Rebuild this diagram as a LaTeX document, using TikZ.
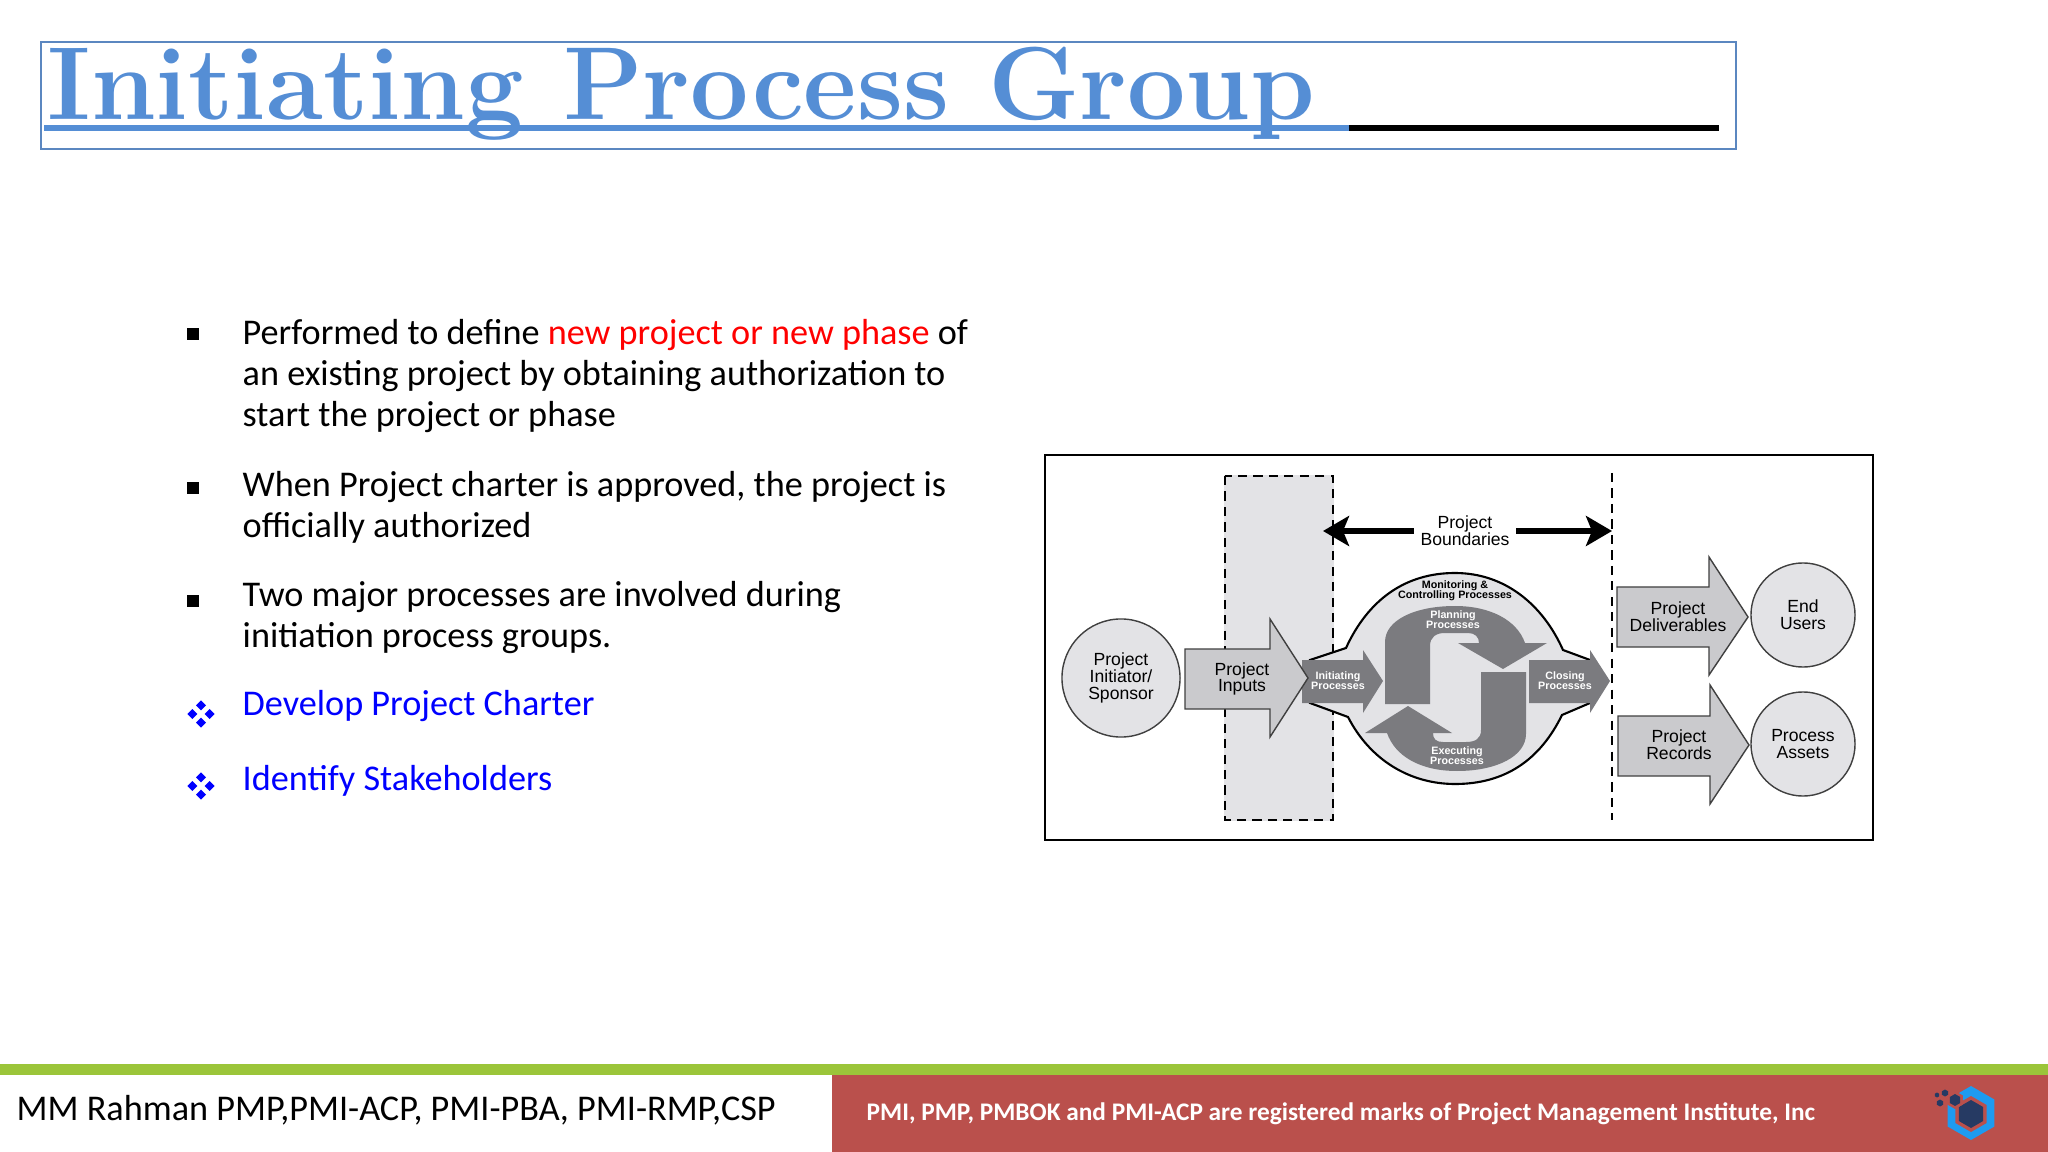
\documentclass[tikz,border=0pt]{standalone}
\usepackage{fontspec}
\usepackage{xcolor}
\usepackage{graphicx}
\usepackage{tikz}
\usetikzlibrary{calc}
\usetikzlibrary{arrows.meta}
\newfontfamily\bodyfont{Carlito}
\newfontfamily\figfont{Liberation Sans}
\definecolor{titleblue}{HTML}{558ED5}
\definecolor{boxblue}{HTML}{5B87C0}
\definecolor{barred}{HTML}{BA504C}
\definecolor{bargreen}{HTML}{9BC53A}
\definecolor{softgray}{HTML}{E3E3E6}
\definecolor{midgray}{HTML}{CACACD}
\definecolor{darkgray}{HTML}{7B7B7F}
\definecolor{logoblue}{HTML}{1E9BF0}
\definecolor{logonavy}{HTML}{263A63}
\def\fourdiamonds{\tikz[x=0.01cm,y=0.01cm,baseline=-0.5ex]{
	\foreach \dx/\dy in {8.7/0,-8.7/0,0/8.7,0/-8.7}
		\fill[blue] (\dx-5,\dy)--(\dx,\dy+5)--(\dx+5,\dy)--(\dx,\dy-5)--cycle;}
	}
\def\hexat#1#2#3{(#1,#2-#3)--(#1+.866*#3,#2-.5*#3)--(#1+.866*#3,#2+.5*#3)--(#1,#2+#3)--(#1-.866*#3,#2+.5*#3)--(#1-.866*#3,#2-.5*#3)--cycle}
\tikzset{
	bodytext/.style={anchor=west,inner sep=0pt,align=left,font=\bodyfont\fontsize{10.3pt}{11.65pt}\selectfont},
	squarebullet/.style={fill=black,inner sep=0pt,minimum size=0.11cm},
	softcircle/.style={circle,draw=black!75,line width=0.4pt,fill=softgray,minimum size=1.04cm,inner sep=0pt,align=center,font=\figfont\fontsize{5pt}{4.75pt}\selectfont},
	blockarrow/.style={draw=black!75,line width=0.4pt,fill=midgray},
	darkarrow/.style={fill=darkgray},
	figlabel/.style={inner sep=0pt,align=center,font=\figfont\fontsize{5pt}{4.75pt}\selectfont},
	whitelabel/.style={inner sep=0pt,align=center,text=white,font=\figfont\bfseries\fontsize{3.05pt}{2.9pt}\selectfont},
	boundary/.style={line width=1.6pt,-{Stealth[length=0.26cm,width=0.30cm,inset=0.06cm]}},
}
\begin{document}
\begin{tikzpicture}[x=0.01cm,y=-0.01cm]
	\useasboundingbox (0,0) rectangle (2048,1152);
	\fill[white] (0,0) rectangle (2048,1152);
	\draw[boxblue,line width=0.45pt] (41,42) rectangle (1736,149);
	\node[anchor=base west,inner sep=0pt,text=titleblue] (title) at (47,120) {\resizebox{12.67cm}{!}{\fontsize{29pt}{30pt}\selectfont\bfseries\addfontfeature{FakeBold=1.2}Initiating Process Group}};
	\fill[titleblue] (44,125.5) rectangle (1349,131);
	\fill[black] (1349,125.5) rectangle (1719,131);

	\node[squarebullet] (bulleta) at (193,334) {};
	\node[squarebullet] (bulletb) at (193,488) {};
	\node[squarebullet] (bulletc) at (193,601) {};
	\node[inner sep=0pt] (bulletd) at (201,714) {\fourdiamonds};
	\node[inner sep=0pt] (bullete) at (201,786) {\fourdiamonds};
	\node[bodytext] (texta) at (242,376) {Performed to define \textcolor{red}{new project or new phase} of\\an existing project by obtaining authorization to\\start the project or phase};
	\node[bodytext] (textb) at (242,507) {When Project charter is approved, the project is\\officially authorized};
	\node[bodytext] (textc) at (242,618) {Two major processes are involved during\\initiation process groups.};
	\node[bodytext,text=blue] (textd) at (242,706) {Develop Project Charter};
	\node[bodytext,text=blue] (texte) at (242,781) {Identify Stakeholders};

	\draw[black,line width=0.7pt,fill=white] (1045,455) rectangle (1873,840);
	\draw[softgray,fill=softgray] (1225,476) rectangle (1333,820);
	\draw[black,line width=0.55pt,dash pattern=on 2.6pt off 1.8pt] (1225,476) rectangle (1333,820);
	\draw[black,line width=0.55pt,dash pattern=on 2.6pt off 1.8pt] (1612,473)--(1612,820);

	\node[figlabel] (bound) at (1465,531) {Project\\Boundaries};
	\coordinate (boundleft) at (1323,531);
	\coordinate (boundright) at (1612,531);
	\draw[boundary] ($(bound.west)+(-6,0)$)--(boundleft);
	\draw[boundary] ($(bound.east)+(6,0)$)--(boundright);

	\draw[black,line width=0.6pt,fill=softgray] (1346,648) .. controls (1368,600) and (1405,573) .. (1455,573) .. controls (1505,573) and (1543,605) .. (1563,650)--(1590,660)--(1590,703)--(1562,715) .. controls (1540,760) and (1505,784) .. (1455,784) .. controls (1410,784) and (1370,760) .. (1348,717)--(1310,703)--(1310,660)--cycle;

	\fill[darkarrow] (1385,704)--(1430,704)--(1430,646) .. controls (1430,637) and (1436,633) .. (1445,633)--(1468,633) .. controls (1475,633) and (1479,637) .. (1479,643)--(1458,643)--(1503,669)--(1547,643)--(1525,643) .. controls (1517,620) and (1490,606) .. (1455,606) .. controls (1415,606) and (1385,620) .. (1385,642)--cycle;
	\fill[darkarrow] (1526,672)--(1481,672)--(1481,730) .. controls (1481,739) and (1475,742) .. (1466,742)--(1443,742) .. controls (1436,742) and (1433,739) .. (1433,733)--(1452,733)--(1408,706)--(1365,733)--(1387,733) .. controls (1395,756) and (1420,771) .. (1457,771) .. controls (1497,771) and (1526,756) .. (1526,734)--cycle;
	\fill[darkarrow] (1302,660)--(1363,660)--(1363,650)--(1383,681)--(1363,713)--(1363,703)--(1302,703)--cycle;
	\fill[darkarrow] (1529,660)--(1590,660)--(1590,650)--(1610,681)--(1590,713)--(1590,703)--(1529,703)--cycle;

	\node[whitelabel,text=black] (monitoring) at (1455,590.5) {Monitoring \&\\Controlling Processes};
	\node[whitelabel] (planning) at (1453,619.5) {Planning\\Processes};
	\node[whitelabel] (executing) at (1457,756) {Executing\\Processes};
	\node[whitelabel] (initiating) at (1338,681) {Initiating\\Processes};
	\node[whitelabel] (closing) at (1565,681) {Closing\\Processes};

	\node[softcircle,minimum size=1.18cm] (sponsor) at (1121,678) {Project\\Initiator/\\Sponsor};
	\draw[blockarrow] (1185,649)--(1270,649)--(1270,619)--(1308,678)--(1270,737)--(1270,709)--(1185,709)--cycle;
	\node[figlabel] (inputs) at (1242,679) {Project\\Inputs};

	\draw[blockarrow] (1617,587)--(1709,587)--(1709,557)--(1748,617)--(1709,675)--(1709,647)--(1617,647)--cycle;
	\node[figlabel] (deliverables) at (1678,616.5) {Project\\Deliverables};
	\draw[blockarrow] (1618,716)--(1710,716)--(1710,685)--(1749,745)--(1710,804)--(1710,776)--(1618,776)--cycle;
	\node[figlabel] (records) at (1679,745) {Project\\Records};
	\node[softcircle] (users) at (1803,615) {End\\Users};
	\node[softcircle] (assets) at (1803,744) {Process\\Assets};

	\fill[bargreen] (0,1064) rectangle (2048,1075);
	\fill[barred] (832,1075) rectangle (2048,1152);
	\node[anchor=base west,inner sep=0pt,font=\bodyfont\fontsize{10.3pt}{12pt}\selectfont] (author) at (16,1120) {MM Rahman PMP,PMI-ACP, PMI-PBA, PMI-RMP,CSP};
	\node[anchor=base west,inner sep=0pt,text=white,font=\bodyfont\bfseries\fontsize{7.2pt}{9pt}\selectfont] (marks) at (866,1120) {PMI, PMP, PMBOK and PMI-ACP are registered marks of Project Management Institute, Inc};

	\fill[logoblue] \hexat{1971}{1113}{27};
	\fill[barred] \hexat{1971}{1114}{18};
	\fill[logonavy] \hexat{1971}{1114}{14};
	\fill[barred] \hexat{1955}{1100}{9};
	\fill[logonavy] \hexat{1955}{1100}{6};
	\fill[logonavy] \hexat{1940}{1103}{3.5};
	\fill[logonavy] \hexat{1945}{1093}{3.5};
	\fill[logonavy] \hexat{1937}{1095}{2.5};
\end{tikzpicture}
\end{document}
